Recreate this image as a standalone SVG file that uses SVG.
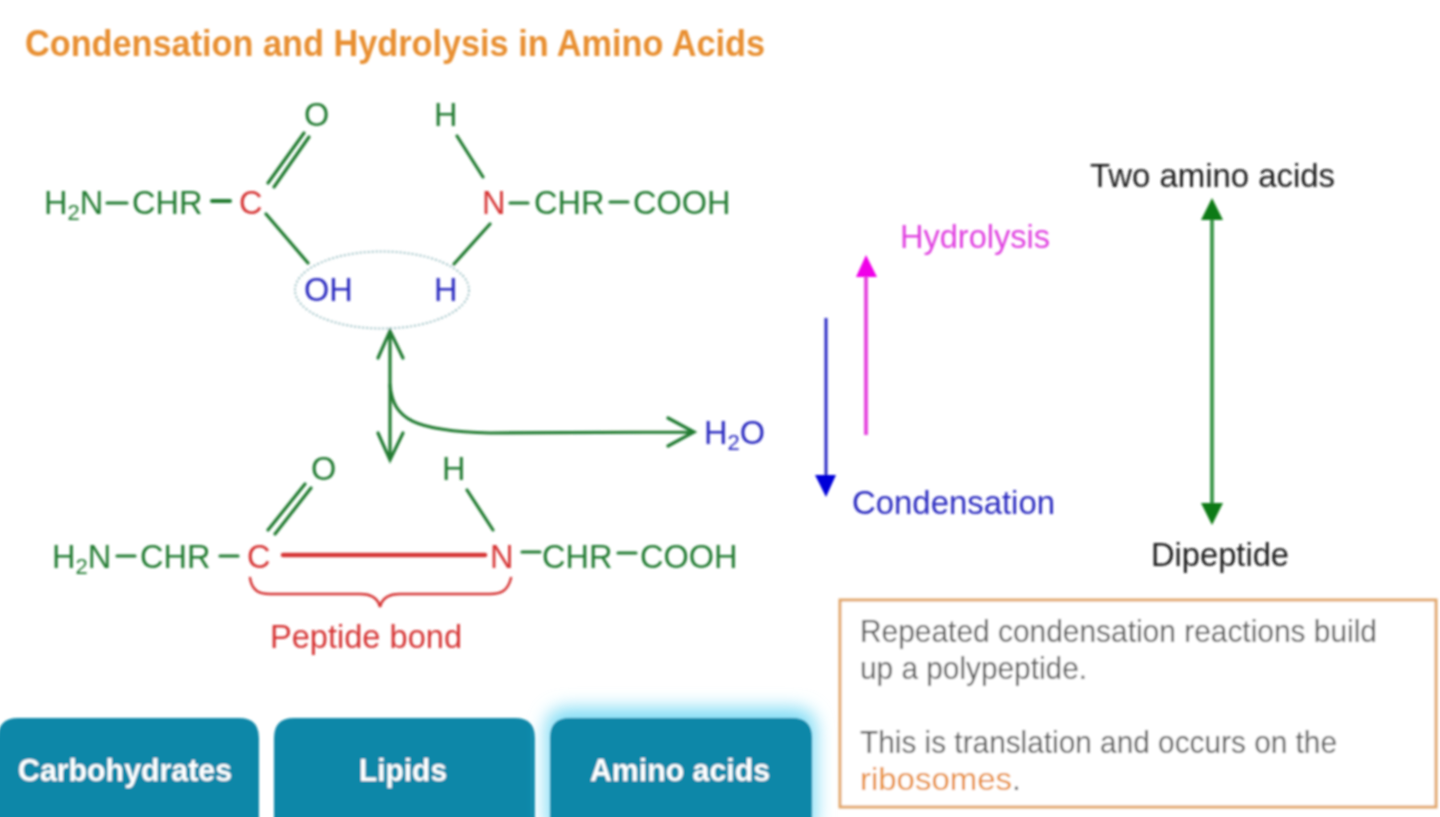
<svg xmlns="http://www.w3.org/2000/svg" width="1440" height="817" viewBox="0 0 1440 817">
<defs>
<filter id="soft" filterUnits="userSpaceOnUse" x="-20" y="-20" width="1480" height="870"><feGaussianBlur stdDeviation="0.9"/></filter>
<filter id="glow" x="-20%" y="-30%" width="140%" height="160%"><feGaussianBlur stdDeviation="9"/></filter>
<style>
text{font-family:"Liberation Sans",Arial,sans-serif;font-size:32.500px}
.g{fill:#237c32}.r{fill:#d63535}.b{fill:#2a2ac0}.k{fill:#1e1e1e}.n{fill:#5c5c5c}
.o{fill:#e88f30}
.btn{fill:#0f87a8}
.bt{fill:#fff;font-weight:bold;font-size:32px;text-anchor:middle}
.gl{stroke:#237c32;stroke-width:3.200;fill:none;stroke-linecap:round}
.rl{stroke:#d63535;fill:none;stroke-linecap:round}
</style>
</defs>
<rect x="-20" y="-20" width="1480" height="870" fill="#fff"/>
<g filter="url(#soft)">
<g id="title"><text x="25" y="56" class="o" font-weight="bold" style="font-size:36px" textLength="740" lengthAdjust="spacingAndGlyphs">Condensation and Hydrolysis in Amino Acids</text></g>

<g id="connectors">
<path class="gl" d="M107 203H127M610 202H628M510 203H528M268 183L304 133M274 187L309 137M266 214L308 263M457 136L483 177M490 224L454 264"/>
<path class="gl" style="stroke-width:4" d="M212 201H230"/>
<path class="gl" d="M117 556H135M220 556H238M522 552H540M618 553H636M268 530L305 484M275 534L311 488M467 490L493 530"/>
<path class="rl" style="stroke-width:4.500" d="M283 555H485"/>
<path class="rl" style="stroke-width:2.500" d="M250 578C252 590 258 594 270 594H360C372 594 378 598 380 607C382 598 388 594 400 594H490C502 594 508 590 511 578"/>
<path class="gl" d="M390 331V460M378 358L390 331L403 358M378 433L390 460L403 433"/>
<path class="gl" d="M390 385C393 420 415 431 490 433L692 432M668 418L694 432L668 446"/>
<path d="M866 435V277" stroke="#e64be0" stroke-width="4" fill="none"/>
<path d="M866 255L877 277H856Z" fill="#f000e8"/>
<path d="M826 318V476" stroke="#2a2ac4" stroke-width="3" fill="none"/>
<path d="M826 497L815 475H836Z" fill="#0000d8"/>
<path d="M1212 218V505" stroke="#3f9a50" stroke-width="4" fill="none"/>
<path d="M1212 198L1223 220H1201Z" fill="#0a7a14"/>
<path d="M1212 525L1201 503H1223Z" fill="#0a7a14"/>
</g>

<g id="molecule-top">
<text x="44" y="214" class="g">H<tspan dy="6" style="font-size:22px">2</tspan><tspan dy="-6">N</tspan></text>
<text x="132" y="214" class="g">CHR</text>
<text x="239" y="214" class="r">C</text>
<text x="482" y="214" class="r">N</text>
<text x="534" y="214" class="g">CHR</text>
<text x="633" y="214" class="g">COOH</text>
<text x="304" y="126" class="g">O</text>
<text x="434" y="126" class="g">H</text>
</g>

<g id="water-group">
<ellipse cx="382" cy="290" rx="87" ry="38.500" fill="none" stroke="#9cc0c4" stroke-width="2" stroke-dasharray="2 2"/>
<text x="304" y="301" class="b">OH</text>
<text x="434" y="301" class="b">H</text>
</g>

<g id="water"><text x="704" y="444" class="b">H<tspan dy="6" style="font-size:22px">2</tspan><tspan dy="-6">O</tspan></text></g>

<g id="molecule-bottom">
<text x="52" y="568" class="g">H<tspan dy="6" style="font-size:22px">2</tspan><tspan dy="-6">N</tspan></text>
<text x="140" y="568" class="g">CHR</text>
<text x="247" y="568" class="r">C</text>
<text x="490" y="568" class="r">N</text>
<text x="542" y="568" class="g">CHR</text>
<text x="640" y="568" class="g">COOH</text>
<text x="311" y="480" class="g">O</text>
<text x="442" y="480" class="g">H</text>
<text x="270" y="648" class="r" style="font-size:33.500px" textLength="192" lengthAdjust="spacingAndGlyphs">Peptide bond</text>
</g>

<g id="labels">
<text x="900" y="248" fill="#e040e0" style="font-size:34px" textLength="150" lengthAdjust="spacingAndGlyphs">Hydrolysis</text>
<text x="852" y="514" class="b" style="font-size:34px" textLength="203" lengthAdjust="spacingAndGlyphs">Condensation</text>
<text x="1090" y="187" class="k" style="font-size:34px" textLength="245" lengthAdjust="spacingAndGlyphs">Two amino acids</text>
<text x="1151" y="566" class="k" style="font-size:34px" textLength="138" lengthAdjust="spacingAndGlyphs">Dipeptide</text>
</g>

<g id="note">
<rect x="840" y="600" width="596" height="207" fill="#fff" stroke="#e2a76c" stroke-width="3"/>
<text x="860" y="642" class="n" style="font-size:32px" textLength="517" lengthAdjust="spacingAndGlyphs">Repeated condensation reactions build</text>
<text x="860" y="679" class="n" style="font-size:32px" textLength="227" lengthAdjust="spacingAndGlyphs">up a polypeptide.</text>
<text x="860" y="753" class="n" style="font-size:32px" textLength="477" lengthAdjust="spacingAndGlyphs">This is translation and occurs on the</text>
<text x="860" y="790" class="o" style="font-size:32px" textLength="152" lengthAdjust="spacingAndGlyphs">ribosomes</text>
<text x="1012" y="790" class="n" style="font-size:32px">.</text>
</g>

<g id="btn-carbohydrates">
<path class="btn" d="M-2 840V738Q-2 718 18 718H239Q259 718 259 738V840Z"/>
<text x="125" y="781" class="bt" textLength="214" lengthAdjust="spacingAndGlyphs">Carbohydrates</text>
</g>
<g id="btn-lipids">
<path class="btn" d="M274 840V738Q274 718 294 718H515Q535 718 535 738V840Z"/>
<text x="403" y="781" class="bt" textLength="88" lengthAdjust="spacingAndGlyphs">Lipids</text>
</g>
<g id="btn-amino-acids">
<rect x="546" y="708" width="270" height="130" rx="20" fill="#7fdcf5" filter="url(#glow)"/>
<path class="btn" d="M550 840V738Q550 718 570 718H792Q812 718 812 738V840Z"/>
<text x="680" y="781" class="bt" textLength="180" lengthAdjust="spacingAndGlyphs">Amino acids</text>
</g>
</g>
</svg>
